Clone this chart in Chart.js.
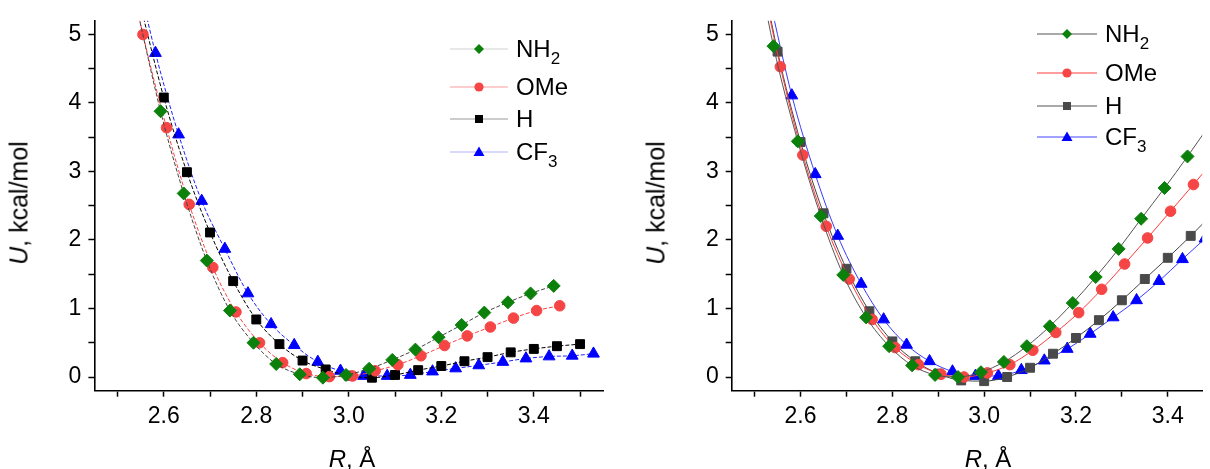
<!DOCTYPE html>
<html lang="en">
<head>
<meta charset="UTF-8">
<title>U(R) scans</title>
<script src="https://cdn.jsdelivr.net/npm/chart.js"></script>
<style>
    body { margin: 0; background: #fff; font-family: "Liberation Sans", Arial, sans-serif; color: #000; }
    .page { position: relative; width: 1210px; height: 469px; overflow: hidden; }
    .box { position: absolute; top: 0; height: 469px; }
    .ytitle { position: absolute; font-size: 25px; line-height: 1; white-space: nowrap;
              transform: translate(-50%, -50%) rotate(-90deg); }
    .xtitle { position: absolute; font-size: 24px; line-height: 1; white-space: nowrap;
              transform: translateX(-50%); }
    .leg { position: absolute; height: 26px; display: flex; align-items: center; font-size: 24px; white-space: nowrap; }
    .leg svg { flex: none; }
    .leg span { margin-left: 8px; }
    .leg sub { font-size: 17px; vertical-align: -7px; line-height: 0; }
</style>
</head>
<body>
<div class="page">
    <div class="box" style="left:0; width:611px;"><canvas id="left"></canvas></div>
    <div class="box" style="left:620px; width:590px;"><canvas id="right"></canvas></div>

    <div class="ytitle" style="left:19px; top:203px;"><i>U</i>, kcal/mol</div>
    <div class="ytitle" style="left:656px; top:203px;"><i>U</i>, kcal/mol</div>
    <div class="xtitle" style="left:352px; top:447px;"><i>R</i>, Å</div>
    <div class="xtitle" style="left:988px; top:447px;"><i>R</i>, Å</div>

    <div id="legLeft"></div>
    <div id="legRight"></div>
</div>

<script>
// ---- data ----
const xTickValues = [2.5, 2.6, 2.7, 2.8, 2.9, 3.0, 3.1, 3.2, 3.3, 3.4, 3.5];
const xTickLabels = ['', '2.6', '', '2.8', '', '3.0', '', '3.2', '', '3.4', ''];
const yTickValues = [0, 0.5, 1, 1.5, 2, 2.5, 3, 3.5, 4, 4.5, 5];
const yTickLabels = ['0', '', '1', '', '2', '', '3', '', '4', '', '5'];

// left panel
const leftNH2X = [2.543, 2.593, 2.643, 2.693, 2.743, 2.794, 2.843, 2.894, 2.944, 2.994, 3.044, 3.094, 3.144, 3.194, 3.244, 3.293, 3.344, 3.393, 3.443];
const leftNH2Y = [5.35, 3.88, 2.68, 1.70, 0.97, 0.50, 0.19, 0.04, -0.01, 0.03, 0.12, 0.25, 0.40, 0.58, 0.76, 0.94, 1.09, 1.22, 1.33];
const leftOMeX = [2.505, 2.555, 2.606, 2.655, 2.706, 2.756, 2.807, 2.857, 2.908, 2.958, 3.008, 3.057, 3.106, 3.156, 3.207, 3.256, 3.306, 3.356, 3.406, 3.456];
const leftOMeY = [6.6, 5.00, 3.64, 2.52, 1.60, 0.95, 0.50, 0.21, 0.05, 0.005, 0.015, 0.09, 0.18, 0.31, 0.46, 0.60, 0.73, 0.86, 0.97, 1.04];
const leftHX = [2.55, 2.60, 2.65, 2.70, 2.75, 2.80, 2.85, 2.90, 2.95, 3.00, 3.05, 3.10, 3.15, 3.20, 3.25, 3.30, 3.35, 3.40, 3.45, 3.50];
const leftHY = [5.41, 4.08, 2.99, 2.11, 1.40, 0.84, 0.48, 0.24, 0.11, 0.02, -0.01, 0.03, 0.10, 0.16, 0.23, 0.29, 0.36, 0.41, 0.45, 0.48];
const leftCF3X = [2.532, 2.582, 2.632, 2.682, 2.732, 2.782, 2.832, 2.882, 2.933, 2.982, 3.032, 3.083, 3.133, 3.181, 3.231, 3.281, 3.333, 3.383, 3.433, 3.483, 3.529];
const leftCF3Y = [6.18, 4.73, 3.54, 2.57, 1.87, 1.22, 0.77, 0.465, 0.22, 0.09, 0.015, 0.015, 0.03, 0.08, 0.125, 0.17, 0.22, 0.27, 0.30, 0.31, 0.34];

// right panel
const rightNH2X = [2.491, 2.541, 2.594, 2.644, 2.693, 2.743, 2.793, 2.843, 2.893, 2.943, 2.993, 3.043, 3.093, 3.143, 3.193, 3.243, 3.293, 3.342, 3.393, 3.443, 3.493];
const rightNH2Y = [6.58, 4.83, 3.44, 2.35, 1.49, 0.87, 0.45, 0.17, 0.03, 0.00, 0.07, 0.22, 0.45, 0.74, 1.08, 1.46, 1.87, 2.31, 2.76, 3.22, 3.70];
const rightOMeX = [2.506, 2.556, 2.605, 2.656, 2.706, 2.756, 2.806, 2.857, 2.906, 2.956, 3.007, 3.056, 3.106, 3.156, 3.206, 3.256, 3.306, 3.356, 3.406, 3.456, 3.506];
const rightOMeY = [6.13, 4.53, 3.24, 2.20, 1.43, 0.84, 0.43, 0.18, 0.04, 0.00, 0.06, 0.18, 0.39, 0.65, 0.94, 1.28, 1.65, 2.03, 2.42, 2.81, 3.21];
const rightHX = [2.50, 2.55, 2.60, 2.65, 2.70, 2.75, 2.80, 2.85, 2.90, 2.95, 3.00, 3.05, 3.10, 3.15, 3.20, 3.25, 3.30, 3.35, 3.40, 3.45, 3.50];
const rightHY = [6.45, 4.75, 3.43, 2.39, 1.58, 0.96, 0.52, 0.23, 0.05, -0.05, -0.06, 0.00, 0.135, 0.34, 0.57, 0.83, 1.12, 1.43, 1.74, 2.06, 2.40];
const rightCF3X = [2.531, 2.581, 2.632, 2.681, 2.732, 2.781, 2.831, 2.881, 2.931, 2.981, 3.031, 3.081, 3.131, 3.181, 3.231, 3.281, 3.332, 3.381, 3.432, 3.481];
const rightCF3Y = [5.56, 4.11, 2.96, 2.06, 1.36, 0.84, 0.47, 0.23, 0.08, 0.015, 0.015, 0.10, 0.24, 0.41, 0.63, 0.87, 1.12, 1.40, 1.72, 2.02];

const seriesNames = ['NH<sub>2</sub>', 'OMe', 'H', 'CF<sub>3</sub>'];

// ---- styles ----
const GREEN = '#0b800b', RED = '#f54545', BLUE = '#0000ff';
const markers = [
    { style: 'rectRot', r: 6.5 },
    { style: 'circle', r: 5.3 },
    { style: 'rect', r: 6.3 },
    { style: 'triangle', r: 6.8 }
];
const leftFill = [GREEN, RED, '#000', BLUE];
const leftLine = ['#444', '#ff4040', '#000', '#2020ff'];
const leftLegLine = ['#d2d2d2', '#ff9c9c', '#9a9a9a', '#b4b4ff'];
const rightFill = [GREEN, RED, '#4a4a4a', BLUE];
const rightLine = ['#555', '#ff3a3a', '#444', '#3a3aff'];
const rightLegLine = ['#555', '#ff3a3a', '#555', '#4444ff'];

function pts(xs, ys) { return xs.map((x, i) => ({ x: x, y: ys[i] })); }

function makeDatasets(data, fills, lines, dash) {
    return data.map((d, i) => ({
        data: pts(d[0], d[1]),
        borderColor: lines[i],
        borderWidth: 1,
        borderDash: dash,
        backgroundColor: fills[i],
        pointStyle: markers[i].style,
        pointRadius: markers[i].r,
        pointBackgroundColor: fills[i],
        pointBorderColor: fills[i],
        pointBorderWidth: 1,
        cubicInterpolationMode: 'monotone',
        fill: false
    }));
}

function makeScales(xMax, yWidth) {
    const tickFont = { family: '"Liberation Sans", Arial, sans-serif', size: 23 };
    const grid = { drawOnChartArea: false, drawTicks: true, tickLength: 6, tickWidth: 1.5, color: '#000' };
    const border = { display: true, color: '#000', width: 1.6 };
    return {
        x: {
            type: 'linear', min: 2.45, max: xMax,
            afterBuildTicks: s => { s.ticks = xTickValues.filter(v => v <= xMax).map(v => ({ value: v })); },
            afterFit: s => { s.height = 78.3; },
            ticks: { autoSkip: false, maxRotation: 0, padding: 6, color: '#000', font: tickFont,
                     callback: (v, i) => xTickLabels[i] },
            grid: grid, border: border
        },
        y: {
            type: 'linear', min: -0.2, max: 5.2,
            afterBuildTicks: s => { s.ticks = yTickValues.map(v => ({ value: v })); },
            afterFit: s => { s.width = yWidth; },
            ticks: { autoSkip: false, padding: 7, color: '#000', font: tickFont,
                     callback: (v, i) => yTickLabels[i] },
            grid: grid, border: border
        }
    };
}

function makeChart(id, datasets, xMax, yWidth, padRight) {
    return new Chart(document.getElementById(id), {
        type: 'line',
        data: { datasets: datasets },
        options: {
            responsive: true,
            maintainAspectRatio: false,
            animation: false,
            layout: { padding: { top: 17, right: padRight, bottom: 0, left: 0 } },
            plugins: { legend: { display: false }, title: { display: false }, tooltip: { enabled: false } },
            scales: makeScales(xMax, yWidth)
        }
    });
}

makeChart('left', makeDatasets([[leftNH2X, leftNH2Y], [leftOMeX, leftOMeY], [leftHX, leftHY], [leftCF3X, leftCF3Y]],
    leftFill, leftLine, [4, 2]), 3.55, 94.4, 1.7);
makeChart('right', makeDatasets([[rightNH2X, rightNH2Y], [rightOMeX, rightOMeY], [rightHX, rightHY], [rightCF3X, rightCF3Y]],
    rightFill, rightLine, []), 3.475, 111.7, 0);

// ---- legends (line + symbol + text) ----
function symbolSvg(i, fill, line, w) {
    const c = w / 2, y = 10;
    let m = '';
    if (i === 0) m = `<polygon points="${c-5},${y} ${c},${y-5} ${c+5},${y} ${c},${y+5}" fill="${fill}"/>`;
    if (i === 1) m = `<circle cx="${c}" cy="${y}" r="4.6" fill="${fill}"/>`;
    if (i === 2) m = `<rect x="${c-4}" y="${y-4}" width="8" height="8" fill="${fill}"/>`;
    if (i === 3) m = `<polygon points="${c-5.5},${y+4} ${c+5.5},${y+4} ${c},${y-5.5}" fill="${fill}"/>`;
    return `<svg width="${w}" height="20"><line x1="0" y1="${y}" x2="${w}" y2="${y}" stroke="${line}" stroke-width="1.2"/>${m}</svg>`;
}

function buildLegend(el, left, rows, w, fills, lines) {
    el.innerHTML = seriesNames.map((n, i) =>
        `<div class="leg" style="left:${left}px; top:${rows[i] - 13}px;">${symbolSvg(i, fills[i], lines[i], w)}<span>${n}</span></div>`
    ).join('');
}

buildLegend(document.getElementById('legLeft'), 450, [49, 87, 119, 152], 58, leftFill, leftLegLine);
buildLegend(document.getElementById('legRight'), 1037, [34, 72.5, 106, 137], 60, rightFill, rightLegLine);
</script>
</body>
</html>
